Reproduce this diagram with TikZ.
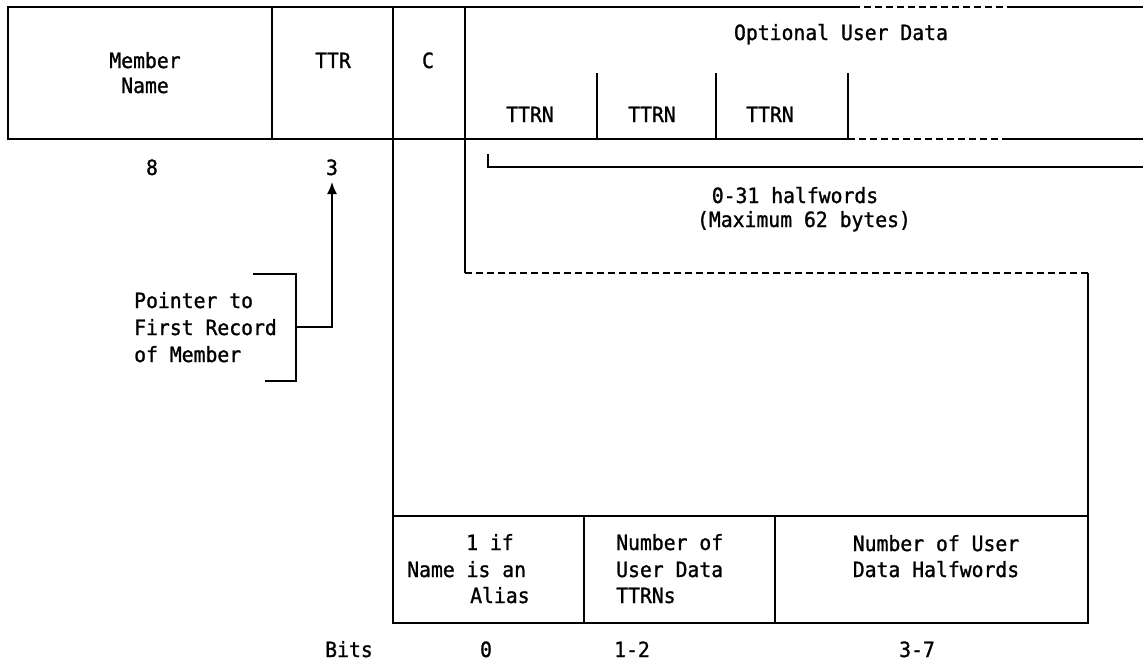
\documentclass[tikz,border=0pt]{standalone}
\usepackage{fontspec}
\setmonofont[FakeBold=1.2,FakeStretch=0.94]{DejaVu Sans Mono}
\usetikzlibrary{arrows.meta}
\begin{document}
\begin{tikzpicture}[x=1pt,y=-1pt,
  ln/.style={line width=1.6pt},
  dsh/.style={line width=1.6pt, dash pattern=on 7pt off 4pt},
  txt/.style={inner sep=0pt, font=\ttfamily\fontsize{21}{26}\selectfont, anchor=base},
  txtl/.style={txt, anchor=base west}]
\useasboundingbox (0,0) rectangle (1143,662);

% ---- top record row
\draw[ln] (8,7) rectangle (272,139);
\draw[ln] (272,7) rectangle (393,139);
\draw[ln] (393,7) rectangle (465,139);
\draw[ln] (465,7) -- (853,7);
\draw[dsh] (853,7) -- (1007,7);
\draw[ln] (1007,7) -- (1143,7);
\draw[ln] (465,139) -- (848,139);
\draw[dsh] (848,139) -- (1007,139);
\draw[ln] (1007,139) -- (1143,139);
\foreach \x in {597,716,848} \draw[ln] (\x,73) -- (\x,139);

\node[txt] (mem1) at (145,68) {Member};
\node[txt] (mem2) at (145,93) {Name};
\node[txt] (ttr) at (333,68) {TTR};
\node[txt] (c) at (428,68) {C};
\node[txt] (oud) at (841,40) {Optional User Data};
\node[txt] (t1) at (530,122) {TTRN};
\node[txt] (t2) at (652,122) {TTRN};
\node[txt] (t3) at (770,122) {TTRN};

% ---- lengths
\node[txt] (len8) at (152,175) {8};
\node[txt] (len3) at (332,175) {3};
\draw[ln] (488,154) -- (488,167) -- (1143,167);
\node[txt] (hw1) at (795,203) {0-31 halfwords};
\node[txt] (hw2) at (804,227) {(Maximum 62 bytes)};

% ---- pointer annotation
\node[txtl] (p1) at (134,308) {Pointer to};
\node[txtl] (p2) at (134,335) {First Record};
\node[txtl] (p3) at (134,362) {of Member};
\draw[ln] (253,274) -- (296,274) -- (296,381) -- (265,381);
\coordinate (pb) at (296,327);
\coordinate (tip) at (332,182);
\draw[ln, -{Latex[length=12pt,width=10pt]}] (pb) -- (tip |- pb) -- (tip);

% ---- expansion of C byte
\draw[ln] (393,139) -- (393,623);
\draw[ln] (465,139) -- (465,273);
\draw[dsh] (465,273) -- (1088,273);
\draw[ln] (1088,273) -- (1088,516);
\draw[ln] (393,516) rectangle (1088,623);
\draw[ln] (584,516) -- (584,623);
\draw[ln] (775,516) -- (775,623);

\node[txtl] (a1) at (466,550) {1 if};
\node[txtl] (a2) at (407,577) {Name is an};
\node[txtl] (a3) at (470,603) {Alias};
\node[txtl] (b1) at (616,550) {Number of};
\node[txtl] (b2) at (616,577) {User Data};
\node[txtl] (b3) at (616,603) {TTRNs};
\node[txt] (c1) at (936,551) {Number of User};
\node[txt] (c2) at (936,577) {Data Halfwords};

% ---- bit numbers
\node[txt] (bits) at (349,657) {Bits};
\node[txt] (bit0) at (486,657) {0};
\node[txt] (bit12) at (632,657) {1-2};
\node[txt] (bit37) at (917,657) {3-7};
\end{tikzpicture}
\end{document}
